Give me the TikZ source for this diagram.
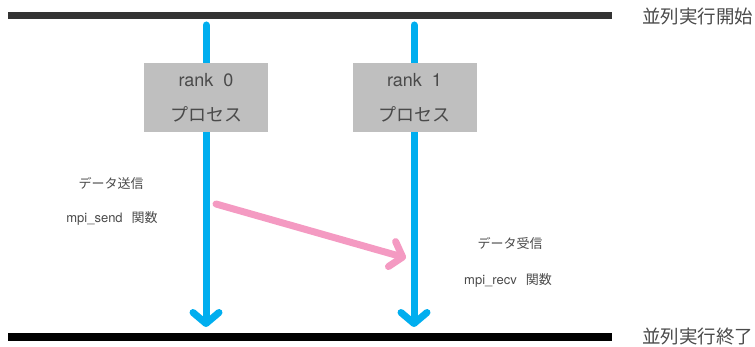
\documentclass[tikz,border=0pt]{standalone}
\usepackage{fontspec}
\setmainfont{TeX Gyre Heros}
\newfontfamily\jp{Noto Sans CJK JP}
\usetikzlibrary{arrows.meta}
\definecolor{txt}{HTML}{4A4A4A}
\definecolor{boxgray}{HTML}{BFBFBF}
\definecolor{flowblue}{HTML}{00AEEF}
\definecolor{msgpink}{HTML}{F49AC2}
\definecolor{topbar}{HTML}{333333}
\begin{document}
\begin{tikzpicture}[x=1pt,y=-1pt,
  proc/.style={fill=boxgray, text=txt, minimum width=124pt, minimum height=69pt,
    inner sep=0pt, align=center, font=\fontsize{18}{35}\selectfont},
  flow/.style={line width=7pt, draw=flowblue, line cap=round,
    -{Straight Barb[length=11pt,width=26pt,round]}},
  msg/.style={line width=7pt, draw=msgpink, line cap=round,
    -{Straight Barb[length=11pt,width=26pt,round]}},
  note/.style={text=txt, inner sep=0pt, font=\fontsize{13}{15}\selectfont},
  phase/.style={text=txt, inner sep=0pt, anchor=west, font=\fontsize{18.5}{20}\selectfont\jp},
  bar/.style={line width=7pt}]
\useasboundingbox (0,0) rectangle (755,347);
% bars
\coordinate (tl) at (8,15.5);
\coordinate (tr) at (612,15.5);
\coordinate (bl) at (8,337);
\coordinate (br) at (612,337);
\draw[bar, draw=topbar] (tl) -- (tr);
\draw[bar, draw=black] (bl) -- (br);
\node[phase] (start) at (642,16) {並列実行開始};
\node[phase] (end) at (642,337) {並列実行終了};
% process lines
\coordinate (p0top) at (206,25);
\coordinate (p0bot) at (206,327);
\coordinate (p1top) at (414,25);
\coordinate (p1bot) at (414,327);
\draw[flow] (p0top) -- (p0bot);
\draw[flow] (p1top) -- (p1bot);
% process boxes
\node[proc] (r0) at (206,97.5) {rank\ \ 0\\{\jp プロセス}};
\node[proc] (r1) at (414.5,97.5) {rank\ \ 1\\{\jp プロセス}};
% message
\coordinate (sendpt) at (216,204);
\coordinate (recvpt) at (406,258);
\draw[msg] (sendpt) -- (recvpt);
% labels
\node[note] (sendlbl) at (111,183) {\jp データ送信};
\node[note] (sendfn) at (112,218) {mpi\_send\hspace{9pt}{\jp 関数}};
\node[note] (recvlbl) at (510,243) {\jp データ受信};
\node[note] (recvfn) at (508,280) {mpi\_recv\hspace{9pt}{\jp 関数}};
\end{tikzpicture}
\end{document}
